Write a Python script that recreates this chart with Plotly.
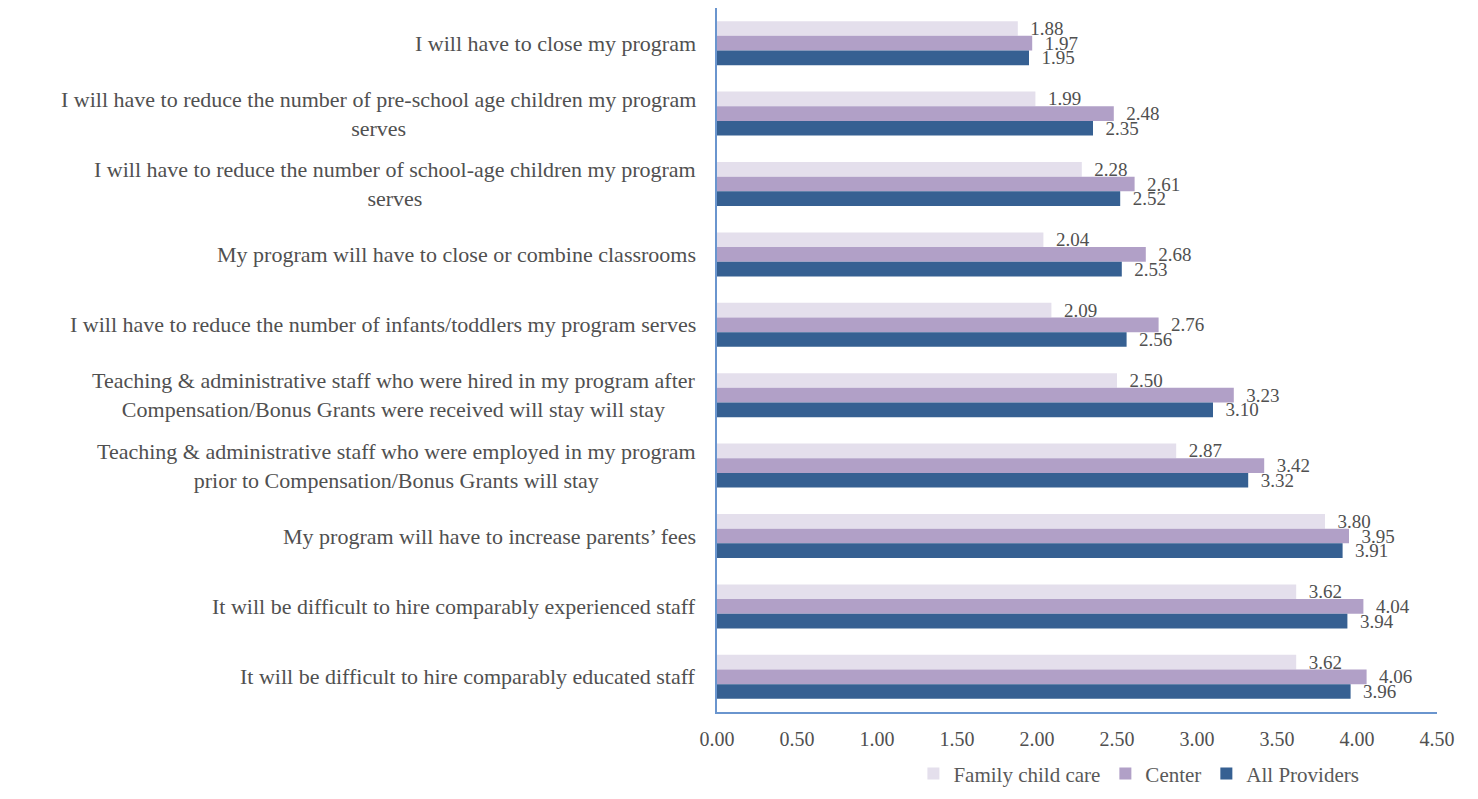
import plotly.graph_objects as go

categories = [
    "I will have to close my program",
    "I will have to reduce the number of pre-school age children my program<br>serves",
    "I will have to reduce the number of school-age children my program<br>serves",
    "My program will have to close or combine classrooms",
    "I will have to reduce the number of infants/toddlers my program serves",
    "Teaching & administrative staff who were hired in my program after<br>Compensation/Bonus Grants were received will stay will stay",
    "Teaching & administrative staff who were employed in my program<br>prior to Compensation/Bonus Grants will stay",
    "My program will have to increase parents\u2019 fees",
    "It will be difficult to hire comparably experienced staff",
    "It will be difficult to hire comparably educated staff",
]
family_child_care = [1.88, 1.99, 2.28, 2.04, 2.09, 2.50, 2.87, 3.80, 3.62, 3.62]
center = [1.97, 2.48, 2.61, 2.68, 2.76, 3.23, 3.42, 3.95, 4.04, 4.06]
all_providers = [1.95, 2.35, 2.52, 2.53, 2.56, 3.10, 3.32, 3.91, 3.94, 3.96]

series = [
    ("Family child care", family_child_care, "#E4DFEC"),
    ("Center", center, "#B1A0C7"),
    ("All Providers", all_providers, "#366092"),
]

FONT = "Liberation Serif, Times New Roman, serif"
TEXT = "#505050"

fig = go.Figure()
for name, vals, color in series:
    fig.add_trace(go.Bar(
        y=categories, x=vals, name=name, orientation="h",
        marker=dict(color=color, line=dict(width=0)),
        text=vals, texttemplate="\u00a0\u00a0%{x:.2f}", textposition="outside",
        constraintext="none", cliponaxis=False,
        textfont=dict(family=FONT, size=19, color=TEXT),
    ))

# category labels centered per line, right-aligned against the axis
for cat in categories:
    fig.add_annotation(
        x=0, xref="paper", y=cat, yref="y", xanchor="right", xshift=-19,
        text=cat, showarrow=False, align="center",
        font=dict(family=FONT, size=22, color=TEXT),
    )

fig.update_layout(
    width=1478, height=799,
    margin=dict(l=717, r=41, t=8, b=87, autoexpand=False),
    paper_bgcolor="white", plot_bgcolor="white",
    barmode="group", bargap=0.375, bargroupgap=0,
    font=dict(family=FONT, color=TEXT),
    legend=dict(
        orientation="h", x=0.586, xanchor="center", y=-0.088, yanchor="middle",
        font=dict(family=FONT, size=21, color="#595959"),
        itemwidth=30, traceorder="normal",
    ),
    showlegend=True,
)
fig.update_xaxes(
    range=[0, 4.5], dtick=0.5, tickformat=".2f", showgrid=False, zeroline=False,
    showline=True, linecolor="#6A95CE", linewidth=1.5, ticks="",
    ticklabelstandoff=8,
    tickfont=dict(family=FONT, size=20, color=TEXT),
)
fig.update_yaxes(
    autorange="reversed", showticklabels=False, showgrid=False, zeroline=False,
    showline=True, linecolor="#6A95CE", linewidth=1.5, ticks="",
)

fig.write_html("out.html")
